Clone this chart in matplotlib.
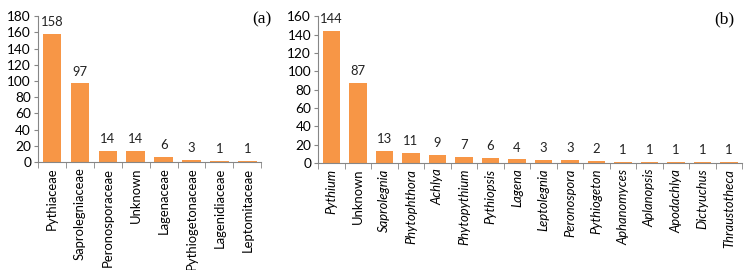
import matplotlib
matplotlib.use("Agg")
import matplotlib.pyplot as plt
import numpy as np

families = ["Pythiaceae", "Saprolegniaceae", "Peronosporaceae", "Unknown",
            "Lagenaceae", "Pythiogetonaceae", "Lagenidiaceae", "Leptomitaceae"]
family_counts = [158, 97, 14, 14, 6, 3, 1, 1]

genera = ["Pythium", "Unknown", "Saprolegnia", "Phytophthora", "Achlya",
          "Phytopythium", "Pythiopsis", "Lagena", "Leptolegnia", "Peronospora",
          "Pythiogeton", "Aphanomyces", "Aplanopsis", "Apodachlya",
          "Dictyuchus", "Thraustotheca"]
genus_counts = [144, 87, 13, 11, 9, 7, 6, 4, 3, 3, 2, 1, 1, 1, 1, 1]

BAR = "#F79646"
AXC = "#868686"
plt.rcParams["font.family"] = ["Lato", "DejaVu Sans"]
FS = 9.4


def bar_panel(ax, cats, vals, ymax, italic_except=None):
    x = np.arange(len(cats))
    ax.bar(x, vals, width=0.66, color=BAR, zorder=2)
    for xi, v in zip(x, vals):
        ax.text(xi, v + ymax * 0.04, str(v), ha="center", va="bottom",
                fontsize=FS, color="#222222")
    ax.set_xlim(-0.5, len(cats) - 0.5)
    ax.set_ylim(0, ymax)
    ax.set_yticks(np.arange(0, ymax + 1, 20))
    ax.set_yticklabels([str(t) for t in range(0, ymax + 1, 20)], fontsize=FS + 0.4)
    ax.set_xticks(x)
    labels = ax.set_xticklabels(cats, rotation=90, fontsize=FS)
    if italic_except is not None:
        for lab in labels:
            if lab.get_text() not in italic_except:
                lab.set_fontstyle("italic")
    ax.tick_params(axis="x", length=0, pad=4)
    ax.tick_params(axis="y", length=3, color=AXC, pad=2)
    # category separator ticks, Excel style
    ax.set_xticks(np.arange(-0.5, len(cats)), minor=True)
    ax.tick_params(axis="x", which="minor", length=4, color=AXC)
    for s in ("top", "right"):
        ax.spines[s].set_visible(False)
    for s in ("left", "bottom"):
        ax.spines[s].set_color(AXC)
        ax.spines[s].set_linewidth(0.8)


fig = plt.figure(figsize=(7.52, 2.70), dpi=100)
ax1 = fig.add_axes([0.0505, 0.4, 0.297, 0.54])
ax2 = fig.add_axes([0.423, 0.396, 0.564, 0.544])

bar_panel(ax1, families, family_counts, 180)
bar_panel(ax2, genera, genus_counts, 160, italic_except={"Unknown"})

fig.text(0.335, 0.93, "(a)", fontsize=12.5, family="Liberation Serif", ha="left", va="center")
fig.text(0.950, 0.93, "(b)", fontsize=12.5, family="Liberation Serif", ha="left", va="center")

fig.savefig("out.png", dpi=100)
